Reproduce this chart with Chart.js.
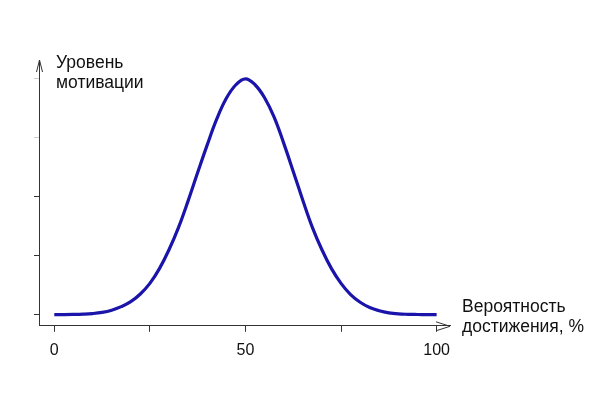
<!DOCTYPE html>
<html>
<head>
<meta charset="utf-8">
<script src="https://cdn.jsdelivr.net/npm/chart.js@4/dist/chart.umd.min.js"></script>
<style>
  html, body { margin: 0; padding: 0; background: #fff; }
  #c { display: block; }
</style>
</head>
<body>
<canvas id="c" width="604" height="397"></canvas>
<script>
// Probability of success, %
const probability = [0, 2.5, 5, 7.5, 10, 12.5, 15, 17.5, 20, 22.5, 25, 27.5, 30, 32.5, 35, 37.5, 40, 42.5, 45, 47.5,
                     50, 52.5, 55, 57.5, 60, 62.5, 65, 67.5, 70, 72.5, 75, 77.5, 80, 82.5, 85, 87.5, 90, 92.5, 95, 97.5, 100];
// Motivation level (arbitrary units)
const motivation = [0, 0, 0.003, 0.008, 0.018, 0.038, 0.075, 0.135, 0.22, 0.35, 0.53, 0.78, 1.1, 1.48, 1.93, 2.41, 2.88, 3.32, 3.67, 3.9,
                    4.0, 3.9, 3.68, 3.35, 2.91, 2.43, 1.94, 1.48, 1.1, 0.78, 0.53, 0.34, 0.21, 0.12, 0.065, 0.03, 0.012, 0.005, 0.002, 0, 0];
// Axis ticks
const xTicks = [0, 25, 50, 75, 100];
const xTickLabels = { 0: '0', 50: '50', 100: '100' };
const yTicks = [0, 1, 2, 3, 4];
// Axis titles
const yTitle = ['Уровень', 'мотивации'];
const xTitle = ['Вероятность', 'достижения, %'];

const FONT = '"Liberation Sans", Arial, sans-serif';

const decorations = {
  id: 'decorations',
  afterDraw(chart) {
    const { ctx, chartArea: a } = chart;
    ctx.save();
    ctx.strokeStyle = '#333';
    ctx.lineWidth = 1;
    // y-axis arrow head
    const yx = a.left + 0.5;
    ctx.beginPath();
    ctx.moveTo(yx - 3, a.top + 12);
    ctx.lineTo(yx, a.top);
    ctx.lineTo(yx + 3, a.top + 12);
    ctx.stroke();
    // x-axis arrow head
    const xy = a.bottom + 0.5;
    ctx.beginPath();
    ctx.moveTo(a.right - 14, xy - 4.5);
    ctx.lineTo(a.right, xy);
    ctx.lineTo(a.right - 14, xy + 4.5);
    ctx.stroke();
    // axis titles
    ctx.fillStyle = '#111';
    ctx.font = '17.5px ' + FONT;
    ctx.textBaseline = 'alphabetic';
    ctx.textAlign = 'left';
    ctx.fillText(yTitle[0], 56, 68);
    ctx.fillText(yTitle[1], 56, 88);
    ctx.fillText(xTitle[0], 462, 312);
    ctx.fillText(xTitle[1], 462, 332);
    ctx.restore();
  }
};

new Chart(document.getElementById('c'), {
  type: 'line',
  data: {
    datasets: [{
      data: probability.map((x, i) => ({ x, y: motivation[i] })),
      borderColor: '#1a14aa',
      borderWidth: 3.2,
      pointRadius: 0,
      fill: false,
      tension: 0.4
    }]
  },
  options: {
    responsive: false,
    animation: false,
    events: [],
    layout: { padding: { left: 34, top: 60, right: 154, bottom: 28 } },
    plugins: { legend: { display: false }, tooltip: { enabled: false } },
    scales: {
      x: {
        type: 'linear',
        min: -4,
        max: 103.5,
        afterBuildTicks: s => { s.ticks = xTicks.map(v => ({ value: v })); },
        grid: { drawOnChartArea: false, tickLength: 6, tickColor: '#333' },
        border: { display: true, color: '#333', width: 1 },
        ticks: {
          autoSkip: false,
          maxRotation: 0,
          padding: 9,
          color: '#111',
          font: { size: 16, family: FONT },
          callback: v => xTickLabels[v] !== undefined ? xTickLabels[v] : ''
        }
      },
      y: {
        type: 'linear',
        min: -0.19,
        max: 4.32,
        afterBuildTicks: s => { s.ticks = yTicks.map(v => ({ value: v })); },
        grid: {
          drawOnChartArea: false,
          tickLength: 5,
          tickColor: c => (c.tick && c.tick.value >= 3) ? '#ccc' : '#333'
        },
        border: { display: true, color: '#333', width: 1 },
        ticks: { display: false }
      }
    }
  },
  plugins: [decorations]
});
</script>
</body>
</html>
